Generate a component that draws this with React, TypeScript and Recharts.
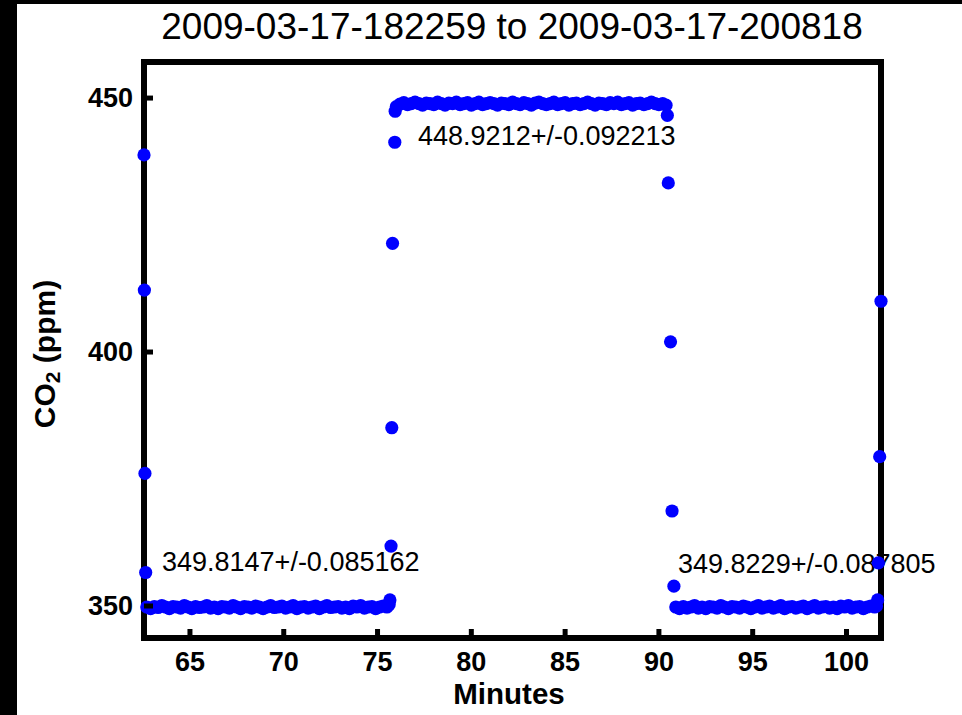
import { ScatterChart, Scatter, XAxis, YAxis } from 'recharts';

// CO2 readings, [minutes, ppm]
const startEdge: [number, number][] = [
  [62.55, 438.8], [62.57, 412.2], [62.6, 376.1], [62.64, 356.6],
];
const baseline1: [number, number][] = [
  [62.7, 349.8], [62.9, 349.5], [63.1, 349.9], [63.3, 349.7], [63.5, 350.1], [63.7, 349.8],
  [63.9, 349.5], [64.1, 349.9], [64.3, 349.8], [64.5, 349.6], [64.7, 350.1], [64.9, 349.8],
  [65.1, 349.5], [65.3, 349.9], [65.5, 349.7], [65.7, 349.8], [65.9, 350.1], [66.1, 349.6],
  [66.3, 349.8], [66.5, 349.5], [66.7, 349.9], [66.9, 349.8], [67.1, 349.6], [67.3, 350.1],
  [67.5, 349.8], [67.7, 349.5], [67.9, 349.9], [68.1, 349.8], [68.3, 349.6], [68.5, 350.0],
  [68.7, 349.8], [68.9, 349.5], [69.1, 349.8], [69.3, 350.1], [69.5, 349.7], [69.7, 349.8],
  [69.9, 350.0], [70.1, 349.6], [70.3, 349.8], [70.5, 350.1], [70.7, 349.5], [70.9, 349.8],
  [71.1, 349.9], [71.3, 349.6], [71.5, 349.8], [71.7, 350.0], [71.9, 349.5], [72.1, 349.8],
  [72.3, 350.1], [72.5, 349.7], [72.7, 349.8], [72.9, 349.9], [73.1, 349.6], [73.3, 349.8],
  [73.5, 349.5], [73.7, 350.0], [73.9, 349.8], [74.1, 350.1], [74.3, 349.6], [74.5, 349.8],
  [74.7, 349.9], [74.9, 349.5], [75.1, 349.8], [75.3, 350.0], [75.5, 349.8],
];
const rise: [number, number][] = [
  [75.62, 350.3], [75.66, 351.2], [75.72, 361.8], [75.76, 385.1], [75.8, 421.4],
  [75.92, 441.3], [75.94, 447.4],
];
const plateau: [number, number][] = [
  [76.0, 448.3], [76.2, 448.8], [76.4, 449.1], [76.6, 448.7], [76.8, 448.9], [77.0, 449.2],
  [77.2, 448.9], [77.4, 448.6], [77.6, 449.0], [77.8, 448.9], [78.0, 448.7], [78.2, 449.2],
  [78.4, 448.9], [78.6, 448.6], [78.8, 449.0], [79.0, 448.9], [79.2, 449.2], [79.4, 448.7],
  [79.6, 448.9], [79.8, 449.1], [80.0, 448.6], [80.2, 448.9], [80.4, 449.2], [80.6, 448.7],
  [80.8, 448.9], [81.0, 449.1], [81.2, 448.9], [81.4, 448.6], [81.6, 449.0], [81.8, 448.9],
  [82.0, 448.7], [82.2, 449.2], [82.4, 448.9], [82.6, 448.7], [82.8, 449.1], [83.0, 448.9],
  [83.2, 448.6], [83.4, 449.0], [83.6, 449.2], [83.8, 448.9], [84.0, 448.7], [84.2, 448.9],
  [84.4, 449.2], [84.6, 448.7], [84.8, 448.9], [85.0, 449.1], [85.2, 448.6], [85.4, 448.9],
  [85.6, 449.0], [85.8, 448.7], [86.0, 448.9], [86.2, 449.2], [86.4, 448.9], [86.6, 448.6],
  [86.8, 449.0], [87.0, 448.9], [87.2, 448.7], [87.4, 449.1], [87.6, 448.9], [87.8, 449.2],
  [88.0, 448.7], [88.2, 448.9], [88.4, 449.1], [88.6, 448.6], [88.8, 448.9], [89.0, 449.0],
  [89.2, 448.7], [89.4, 448.9], [89.6, 449.2], [89.8, 448.9], [90.0, 448.7], [90.2, 448.9],
  [90.38, 448.6],
];
const fall: [number, number][] = [
  [90.45, 446.6], [90.5, 433.3], [90.62, 402.0], [90.7, 368.7], [90.8, 353.9],
];
const baseline2: [number, number][] = [
  [90.9, 349.8], [91.1, 349.5], [91.3, 349.9], [91.5, 349.6], [91.7, 349.8], [91.9, 350.1],
  [92.1, 349.6], [92.3, 349.8], [92.5, 349.5], [92.7, 349.9], [92.9, 349.8], [93.1, 349.6],
  [93.3, 350.1], [93.5, 349.8], [93.7, 349.5], [93.9, 349.9], [94.1, 349.8], [94.3, 349.6],
  [94.5, 350.0], [94.7, 349.8], [94.9, 349.5], [95.1, 349.8], [95.3, 350.1], [95.5, 349.6],
  [95.7, 349.8], [95.9, 350.0], [96.1, 349.6], [96.3, 349.8], [96.5, 350.1], [96.7, 349.5],
  [96.9, 349.8], [97.1, 349.9], [97.3, 349.6], [97.5, 349.8], [97.7, 350.0], [97.9, 349.5],
  [98.1, 349.8], [98.3, 350.1], [98.5, 349.6], [98.7, 349.8], [98.9, 349.9], [99.1, 349.6],
  [99.3, 349.8], [99.5, 349.5], [99.7, 350.0], [99.9, 349.8], [100.1, 350.1], [100.3, 349.6],
  [100.5, 349.8], [100.7, 349.9], [100.9, 349.5], [101.1, 349.8], [101.3, 350.0], [101.5, 349.8],
  [101.6, 350.0],
];
const endEdge: [number, number][] = [
  [101.66, 351.2], [101.7, 358.5], [101.77, 379.4], [101.84, 410.0],
];

const notes = [
  { t: 63.51, co2: 358.6, text: '349.8147+/-0.085162' },
  { t: 77.16, co2: 442.5, text: '448.9212+/-0.092213' },
  { t: 91.02, co2: 358.3, text: '349.8229+/-0.087805' },
];

const xTicks = [65, 70, 75, 80, 85, 90, 95, 100];
const yTicks = [350, 400, 450];
const xDomain = [62.55, 101.84];
const yDomain = [343.7, 457.1];

const readings = [...startEdge, ...baseline1, ...rise, ...plateau, ...fall, ...baseline2, ...endEdge]
  .map(([t, co2]) => ({ t, co2 }));

const FONT = '"Liberation Sans", Arial, Helvetica, sans-serif';
const TICK_LEN = 9;

function BottomTick({ x, y, payload }: any) {
  return (
    <g>
      <line x1={x} y1={y} x2={x} y2={y - TICK_LEN} stroke="#000" strokeWidth={5} />
      <text x={x} y={y + 24} textAnchor="middle" dominantBaseline="central"
        fontFamily={FONT} fontSize={27} fontWeight="bold" fill="#000">{payload.value}</text>
    </g>
  );
}

function LeftTick({ x, y, payload }: any) {
  return (
    <g>
      <line x1={x} y1={y} x2={x + TICK_LEN} y2={y} stroke="#000" strokeWidth={5} />
      <text x={x - 11} y={y} textAnchor="end" dominantBaseline="central"
        fontFamily={FONT} fontSize={27} fontWeight="bold" fill="#000">{payload.value}</text>
    </g>
  );
}

const TopTick = ({ x, y }: any) => (
  <line x1={x} y1={y} x2={x} y2={y + TICK_LEN} stroke="#000" strokeWidth={5} />
);
const RightTick = ({ x, y }: any) => (
  <line x1={x} y1={y} x2={x - TICK_LEN} y2={y} stroke="#000" strokeWidth={5} />
);

const Dot = ({ cx, cy }: any) => <circle cx={cx} cy={cy} r={6.6} fill="#0000ff" />;

const Note = ({ cx, cy, payload }: any) => (
  <text x={cx} y={cy} dominantBaseline="central" fontFamily={FONT} fontSize={27} fill="#000">
    {payload.text}
  </text>
);

const axisLine = { stroke: '#000', strokeWidth: 6, strokeLinecap: 'square' as const };

export default function App() {
  return (
    <div style={{ position: 'absolute', left: 0, top: 0, width: 962, height: 715, background: '#000' }}>
      <div style={{ position: 'absolute', left: 17, top: 4, width: 945, height: 711, background: '#fff' }} />
      <div style={{ position: 'absolute', left: 0, top: 0 }}>
        <ScatterChart width={962} height={715} margin={{ top: 52, right: 71, bottom: 37, left: 84 }}>
          <XAxis xAxisId={0} type="number" dataKey="t" domain={xDomain} ticks={xTicks}
            height={40} axisLine={axisLine} tickLine={false}
            tickSize={0} tickMargin={0} tick={<BottomTick />} interval={0} />
          <XAxis xAxisId="top" orientation="top" type="number" domain={xDomain} ticks={xTicks}
            height={10} axisLine={axisLine} tickLine={false}
            tickSize={0} tickMargin={0} tick={<TopTick />} interval={0} />
          <YAxis yAxisId={0} type="number" dataKey="co2" domain={yDomain} ticks={yTicks}
            width={60} axisLine={axisLine} tickLine={false}
            tickSize={0} tickMargin={0} tick={<LeftTick />} interval={0} />
          <YAxis yAxisId="right" orientation="right" type="number" domain={yDomain} ticks={yTicks}
            width={10} axisLine={axisLine} tickLine={false}
            tickSize={0} tickMargin={0} tick={<RightTick />} interval={0} />
          <Scatter data={notes} dataKey="co2" shape={<Note />} isAnimationActive={false} />
          <Scatter data={readings} dataKey="co2" shape={<Dot />} isAnimationActive={false} />
        </ScatterChart>
      </div>
      <svg width={962} height={715} style={{ position: 'absolute', left: 0, top: 0, pointerEvents: 'none' }}>
        <text x={512} y={26} textAnchor="middle" dominantBaseline="central"
          fontFamily={FONT} fontSize={37} fill="#000">2009-03-17-182259 to 2009-03-17-200818</text>
        <text x={509} y={693} textAnchor="middle" dominantBaseline="central"
          fontFamily={FONT} fontSize={29.5} fontWeight="bold" fill="#000">Minutes</text>
        <text x={44} y={354} textAnchor="middle" dominantBaseline="central" transform="rotate(-90 44 354)"
          fontFamily={FONT} fontSize={30} fontWeight="bold" fill="#000">
          CO<tspan fontSize={21} dy={8}>2</tspan><tspan dy={-8}> (ppm)</tspan>
        </text>
      </svg>
    </div>
  );
}
